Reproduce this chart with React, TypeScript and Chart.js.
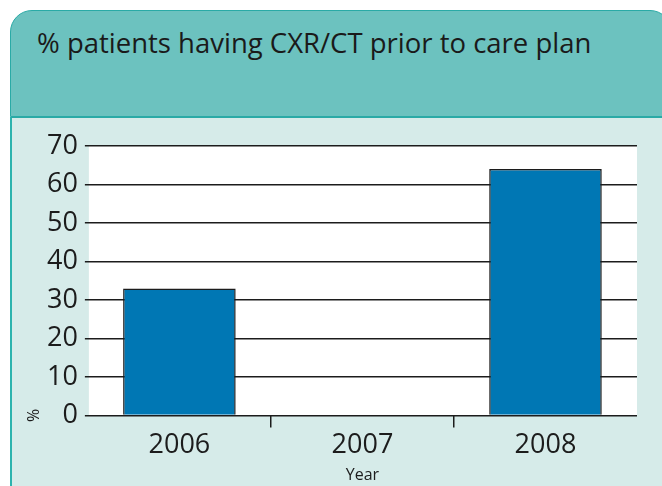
import React, { useEffect, useRef } from "react";
import { Chart, registerables } from "chart.js";

Chart.register(...registerables);

const TITLE = "% patients having CXR/CT prior to care plan";
const YEARS = ["2006", "2007", "2008"];
const VALUES: (number | null)[] = [33, null, 64];
const Y_TICKS = [0, 10, 20, 30, 40, 50, 60, 70];
const X_TITLE = "Year";
const Y_TITLE = "%";

const FONT = "'Open Sans', 'Noto Sans', sans-serif";
const INK = "#1c1c1c";

const plotBg = {
  id: "plotBg",
  beforeDraw(chart: any) {
    const { ctx, chartArea } = chart;
    ctx.save();
    ctx.fillStyle = "#ffffff";
    ctx.fillRect(chartArea.left + 1, chartArea.top, chartArea.right - chartArea.left - 1, chartArea.bottom - chartArea.top);
    ctx.restore();
  },
  afterDraw(chart: any) {
    const { ctx, chartArea } = chart;
    ctx.save();
    ctx.translate(34, chartArea.bottom);
    ctx.rotate(-Math.PI / 2);
    ctx.fillStyle = INK;
    ctx.font = `400 16px ${FONT}`;
    ctx.textAlign = "center";
    ctx.textBaseline = "middle";
    ctx.fillText(Y_TITLE, 0, 0);
    ctx.restore();
  },
};

export default function App() {
  const ref = useRef<HTMLCanvasElement | null>(null);
  useEffect(() => {
    document.body.style.margin = "0";
    const chart = new Chart(ref.current!, {
      type: "bar",
      data: {
        labels: YEARS,
        datasets: [
          {
            data: VALUES,
            backgroundColor: "#0077b4",
            borderColor: INK,
            borderWidth: 1.5,
            barPercentage: 0.615,
            categoryPercentage: 1,
          },
        ],
      },
      options: {
        animation: false,
        responsive: false,
        maintainAspectRatio: false,
        layout: { padding: { top: 146, left: 40, right: 25, bottom: 1 } },
        plugins: { legend: { display: false }, tooltip: { enabled: false } },
        scales: {
          x: {
            offset: true,
            border: { display: false },
            grid: {
              offset: true,
              drawOnChartArea: false,
              drawTicks: true,
              tickLength: 12,
              lineWidth: 1.5,
              color: (c: any) => (c.index === 1 || c.index === 2 ? INK : "rgba(0,0,0,0)"),
            },
            ticks: { color: INK, font: { family: FONT, size: 27, weight: 400 }, padding: 2 },
            title: { display: true, text: X_TITLE, color: INK, font: { family: FONT, size: 16, weight: 400 }, padding: { top: 2, bottom: 0 } },
          },
          y: {
            min: 0,
            max: 70,
            afterBuildTicks: (s: any) => {
              s.ticks = Y_TICKS.map((v) => ({ value: v }));
            },
            border: { display: false },
            grid: { color: INK, lineWidth: 1.5, tickLength: 3, drawTicks: true },
            ticks: { color: INK, font: { family: FONT, size: 27, weight: 400 }, padding: 7 },
          },
        },
      },
      plugins: [plotBg],
    });
    return () => chart.destroy();
  }, []);

  return (
    <div style={{ position: "relative", width: 662, height: 486, background: "#ffffff", overflow: "hidden" }}>
      <div
        style={{
          position: "absolute",
          left: 10,
          top: 10,
          width: 662,
          height: 107,
          background: "#6cc2bf",
          border: "1.5px solid #2aaaa6",
          borderRadius: "22px 22px 0 0",
          boxSizing: "border-box",
        }}
      />
      <div
        style={{
          position: "absolute",
          left: 10,
          top: 117,
          width: 660,
          height: 380,
          background: "#d6ebe9",
          borderLeft: "2px solid #2db3ae",
          borderTop: "1px solid #2aaaa6",
          boxSizing: "border-box",
        }}
      />
      <div
        style={{
          position: "absolute",
          left: 37,
          top: 26,
          fontFamily: FONT,
          fontSize: 27.5,
          fontWeight: 400,
          color: "#1a1a1a",
          whiteSpace: "nowrap",
          lineHeight: "34px",
        }}
      >
        {TITLE}
      </div>
      <canvas ref={ref} width={662} height={486} style={{ position: "absolute", left: 0, top: 0 }} />
    </div>
  );
}
